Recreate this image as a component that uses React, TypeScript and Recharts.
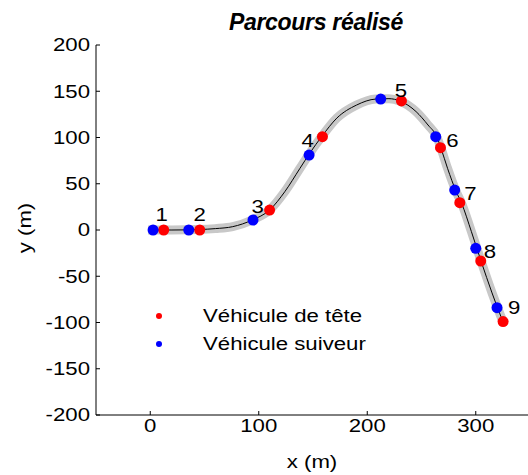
import {
  ComposedChart,
  Legend,
  Line,
  Scatter,
  XAxis,
  YAxis,
} from "recharts";

// road / trajectory centreline (m)
const pathX = [-2, 20, 45, 60, 76, 94, 110, 124, 138, 147, 158, 172, 190, 208, 220, 230, 245, 256, 264, 268, 274, 282, 287, 296, 305, 315, 326];
const pathY = [0, 0, 0.5, 1.5, 3.6, 10.8, 21.6, 41.4, 66.7, 83, 101, 121, 135, 141.6, 142, 139.5, 128, 113.5, 101, 88.3, 66.7, 41.4, 28.8, -1.8, -34, -68, -102];

// leader vehicle samples
const leadX = [12.4, 45.6, 110, 158.7, 231.5, 267.5, 285.3, 304.6, 325.2];
const leadY = [0, 0, 21.6, 100.9, 139.5, 89, 29.5, -33.5, -99];

// follower vehicle samples
const followX = [2.6, 35.5, 94.7, 146.4, 212.4, 263.1, 280.6, 300, 319.6];
const followY = [0, 0, 10.8, 81, 141.6, 100.9, 43.2, -19.8, -84];

// sample numbers and where they are annotated
const sampleNums = [1, 2, 3, 4, 5, 6, 7, 8, 9];
const noteX = [10.6, 45.6, 99, 145, 231, 278.5, 295, 313, 335.5];
const noteY = [16.2, 16.2, 24.9, 97, 151, 97, 39.7, -23.5, -84];

const xTicks = [0, 100, 200, 300];
const yTicks = [-200, -150, -100, -50, 0, 50, 100, 150, 200];

const path = pathX.map((x, i) => ({ x, y: pathY[i] }));
const lead = leadX.map((x, i) => ({ x, y: leadY[i] }));
const follow = followX.map((x, i) => ({ x, y: followY[i] }));
const notes = sampleNums.map((n, i) => ({ n, x: noteX[i], y: noteY[i] }));

const FONT = '"Liberation Sans", Arial, Helvetica, sans-serif';
const SX = 1.2;

function Wide({ x, y, anchor, dy, size = 18.5, children }: any) {
  return (
    <text
      transform={`translate(${x},${y}) scale(${SX},1)`}
      textAnchor={anchor}
      dy={dy}
      fontSize={size}
      fontFamily={FONT}
      fill="#000"
    >
      {children}
    </text>
  );
}

const YTick = (p: any) => (
  <Wide x={p.x} y={p.y} anchor="end" dy="0.35em">{p.payload.value}</Wide>
);
const XTick = (p: any) => (
  <Wide x={p.x} y={p.y} anchor="middle" dy="0.71em">{p.payload.value}</Wide>
);

function LegendBox({ payload }: any) {
  const items = (payload || []).filter((e: any) => e.type !== "none");
  return (
    <svg width={240} height={60}>
      {items.map((e: any, i: number) => (
        <g key={e.value}>
          <circle cx={19} cy={14 + i * 28} r={3} fill={e.color} />
          <Wide x={63} y={14 + i * 28} anchor="start" dy="0.35em">{e.value}</Wide>
        </g>
      ))}
    </svg>
  );
}

const dot = (color: string) => (p: any) => (
  <circle cx={p.cx} cy={p.cy} r={5.5} fill={color} />
);

export default function App() {
  return (
    <div
      style={{
        position: "absolute",
        left: 0,
        top: 0,
        width: 528,
        height: 475,
        overflow: "hidden",
        background: "#fff",
        fontFamily: FONT,
      }}
    >
      <ComposedChart
        width={540}
        height={475}
        margin={{ top: 45, right: 10, bottom: 0, left: 0 }}
      >
        <XAxis
          type="number"
          dataKey="x"
          domain={[-50, 350]}
          ticks={xTicks}
          height={60}
          stroke="#000"
          tickSize={-4}
          tickMargin={8}
          tick={XTick}
        />
        <YAxis
          type="number"
          dataKey="y"
          domain={[-200, 200]}
          ticks={yTicks}
          width={96}
          stroke="#000"
          tickSize={-4}
          tickMargin={10}
          tick={YTick}
        />
        <Line
          data={path}
          dataKey="y"
          type="monotone"
          stroke="#c8c8c8"
          strokeWidth={9}
          dot={false}
          legendType="none"
          isAnimationActive={false}
        />
        <Line
          data={path}
          dataKey="y"
          type="monotone"
          stroke="#000"
          strokeWidth={1}
          dot={false}
          legendType="none"
          isAnimationActive={false}
        />
        <Scatter
          name="Véhicule de tête"
          data={lead}
          dataKey="y"
          fill="#ff0000"
          shape={dot("#ff0000")}
          isAnimationActive={false}
        />
        <Scatter
          name="Véhicule suiveur"
          data={follow}
          dataKey="y"
          fill="#0000ff"
          shape={dot("#0000ff")}
          isAnimationActive={false}
        />
        <Scatter
          data={notes}
          dataKey="y"
          legendType="none"
          shape={(p: any) => (
            <Wide x={p.cx} y={p.cy} anchor="middle" dy="0.35em">{p.payload.n}</Wide>
          )}
          isAnimationActive={false}
        />
        <Legend
          layout="vertical"
          align="center"
          verticalAlign="middle"
          content={LegendBox}
          wrapperStyle={{ position: "absolute", left: 140, top: 302, width: 240, height: 60 }}
        />
      </ComposedChart>
      <svg
        width={528}
        height={475}
        style={{ position: "absolute", left: 0, top: 0, pointerEvents: "none" }}
      >
        <text
          x={316}
          y={30}
          textAnchor="middle"
          fontFamily={FONT}
          fontSize={23}
          fontWeight="bold"
          fontStyle="italic"
          letterSpacing={-0.3}
        >
          Parcours réalisé
        </text>
        <Wide x={312} y={468} anchor="middle">x (m)</Wide>
        <g transform="rotate(-90 31 228)">
          <Wide x={31} y={228} anchor="middle">y (m)</Wide>
        </g>
      </svg>
    </div>
  );
}
